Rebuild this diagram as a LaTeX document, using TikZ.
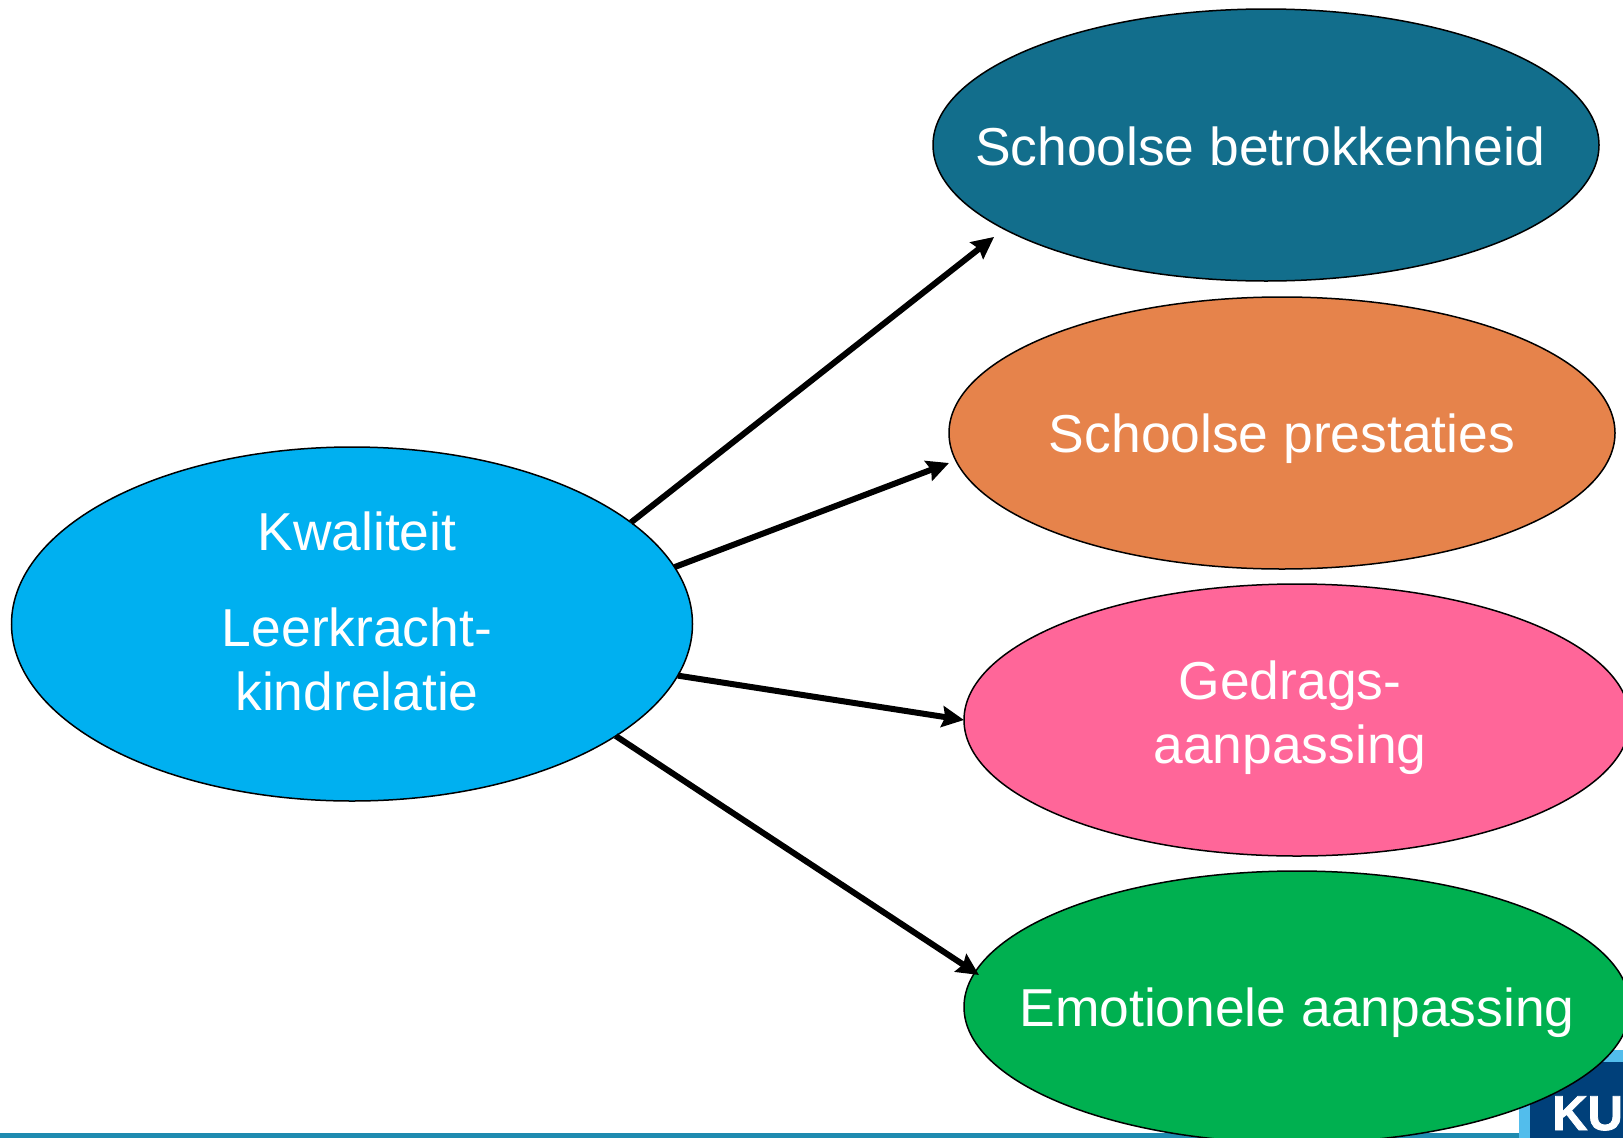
\documentclass[tikz,border=0pt]{standalone}
\usepackage{fontspec}
\setmainfont{Liberation Sans}
\newfontfamily\logofont[FakeBold=1.5]{Liberation Sans Bold}
\usepackage{xcolor}
\usetikzlibrary{shapes.geometric, arrows.meta, positioning}
\definecolor{kuteal}{HTML}{126E8C}
\definecolor{kuorange}{HTML}{E6834B}
\definecolor{kupink}{HTML}{FF6699}
\definecolor{kugreen}{HTML}{00B050}
\definecolor{kublue}{HTML}{00B0F0}
\definecolor{kubar}{HTML}{1F8BB0}
\definecolor{kulight}{HTML}{52BDEC}
\definecolor{kunavy}{HTML}{00407A}
\tikzset{
  outcome/.style={ellipse, draw=black, line width=1.5pt, minimum width=666pt, minimum height=272pt, inner sep=0pt, outer sep=0pt},
  bigtext/.style={text=white, align=center, inner sep=0pt, font=\fontsize{53.4pt}{64pt}\selectfont},
  link/.style={->, line width=6pt}
}

\begin{document}
\begin{tikzpicture}[>={Stealth[length=22pt,width=21pt,inset=3pt]}, x=1pt, y=-1pt]

      \useasboundingbox (0, 0) rectangle (1623, 1138);
      \clip (0, 0) rectangle (1623, 1138);

      \fill[kubar] (0, 1133) rectangle (1519, 1138);
      \fill[kulight] (1519, 1050) rectangle (1623, 1138);
      \fill[kunavy] (1530, 1062) rectangle (1623, 1138);
      \node[text=white, inner sep=0pt, anchor=base west, font=\fontsize{49pt}{49pt}\logofont] (logo) at (1552, 1130) {KU};

      \node[outcome, fill=kublue, minimum width=681pt, minimum height=354pt] (kwaliteit) at (352, 624) {};
      \node[outcome, fill=kuteal] (betrokkenheid) at (1266, 145) {};
      \node[outcome, fill=kuorange] (prestaties) at (1282, 433) {};
      \node[outcome, fill=kupink] (gedrag) at (1297, 720) {};
      \node[outcome, fill=kugreen] (emotioneel) at (1297, 1007) {};

      \node[bigtext] (kwaliteitlabel) at (357, 531) {Kwaliteit};
      \node[bigtext] (relatielabel) at (357, 659) {Leerkracht-\\kindrelatie};
      \node[bigtext] (betrokkenlabel) at (1260, 146) {Schoolse betrokkenheid};
      \node[bigtext] (prestatielabel) at (1282, 439) {Schoolse prestaties};
      \node[bigtext] (gedraglabel) at (1290, 718) {Gedrags-\\aanpassing};
      \node[bigtext] (emotielabel) at (1297, 1013) {Emotionele aanpassing};

      \coordinate (tipbetrokken) at (994, 237);
      \coordinate (tipprestaties) at (949, 463);
      \coordinate (tipemotie) at (979, 975);

      \draw[link, black!30, line width=3pt, shift={(3, 3)}] (kwaliteit.20) -- (tipbetrokken);
      \draw[link] (kwaliteit.20) -- (tipbetrokken);
      \draw[link] (kwaliteit.10.3) -- (tipprestaties);
      \draw[link] (kwaliteit.-9.1) -- (gedrag.west);
      \draw[link] (kwaliteit.-23.4) -- (tipemotie);

    \end{tikzpicture}
\end{document}
